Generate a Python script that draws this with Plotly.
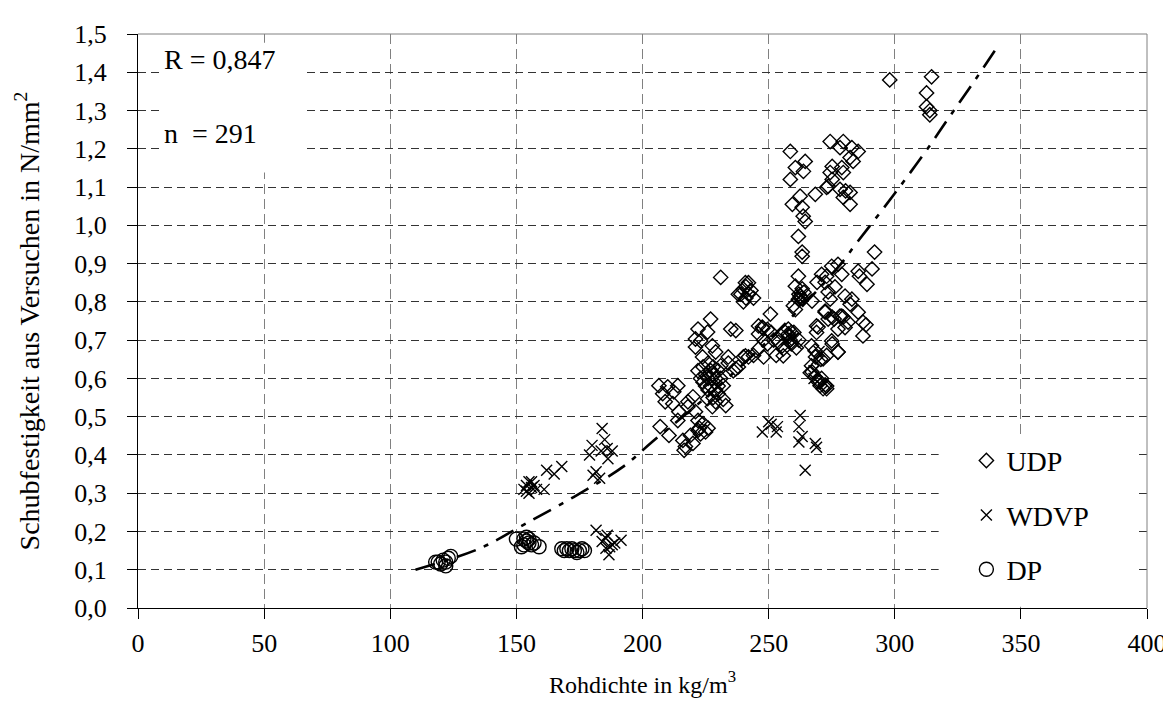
import plotly.graph_objects as go

# ---------------- data ----------------
udp_points = [
    (231, 0.864), (227, 0.755), (222, 0.729), (225.8, 0.721), (235, 0.729), (221, 0.703), (223, 0.698),
    (227.7, 0.685), (221, 0.682), (229, 0.669), (234, 0.656), (240, 0.656), (223.8, 0.656), (237, 0.625),
    (231, 0.633), (222, 0.62), (224, 0.63), (225, 0.61), (226, 0.60), (227, 0.62), (228, 0.61), (229, 0.60),
    (226, 0.64), (228, 0.63), (230, 0.62), (223, 0.60), (225, 0.58), (227, 0.58), (229, 0.57), (231, 0.60),
    (224, 0.59), (226, 0.57), (230, 0.58), (232, 0.581), (206.5, 0.581), (210, 0.578), (214, 0.581),
    (208, 0.56), (212.4, 0.565), (209, 0.539), (212, 0.534), (218, 0.539), (220, 0.552), (225.8, 0.547),
    (229, 0.539), (233, 0.529), (227.7, 0.526), (218, 0.526), (214.4, 0.513), (221, 0.513), (214, 0.49),
    (222, 0.49), (224, 0.482), (207, 0.474), (210.5, 0.451), (219, 0.451), (222, 0.464), (222.5, 0.47),
    (216, 0.438), (217, 0.422), (216.5, 0.412), (220, 0.43), (223, 0.455), (225, 0.46), (226, 0.47),
    (228, 0.55), (230, 0.56), (232, 0.545), (234, 0.64), (236, 0.62), (238, 0.63), (237, 0.725),
    (239, 0.82), (240, 0.833), (241, 0.84), (242, 0.85), (243, 0.83), (241, 0.81), (240, 0.80), (242, 0.82),
    (244, 0.81), (238, 0.82), (240.8, 0.85),
    (250.7, 0.768), (247.5, 0.734), (249.5, 0.728), (246, 0.716), (248, 0.70), (249.5, 0.69), (248, 0.656),
    (255.4, 0.685), (257.8, 0.716), (258.6, 0.70), (255.8, 0.659), (260.6, 0.78), (246, 0.737), (247.7, 0.731),
    (257.8, 0.729), (256.5, 0.721), (259, 0.72), (253.9, 0.695), (255.8, 0.677), (246, 0.677), (242, 0.656),
    (240.8, 0.659), (252, 0.70), (253, 0.66), (258, 0.71), (260, 0.72), (262, 0.70), (259, 0.69), (261, 0.68),
    (251, 0.72), (244, 0.66),
    (258.6, 1.193), (264.5, 1.167), (260.6, 1.151), (263.8, 1.141), (258.6, 1.12), (274.4, 1.219),
    (274.4, 1.138), (273, 1.099), (268.5, 1.081), (262.5, 1.076), (259.4, 1.055), (263.3, 1.047),
    (263.7, 1.024), (264.5, 1.01), (261.8, 0.971), (263.3, 0.93), (263.3, 0.919), (261.8, 0.867),
    (260.6, 0.841), (263.3, 0.834), (261.8, 0.807), (267.2, 0.802), (259.8, 0.79), (271, 0.872),
    (269.2, 0.851), (272.4, 0.851), (273.6, 0.826), (272.4, 0.776), (273.6, 0.755), (275, 0.893),
    (262, 0.82), (263, 0.81), (264, 0.825), (262.5, 0.815),
    (269, 0.737), (269, 0.72), (267, 0.685), (268.6, 0.656), (267, 0.633), (266.5, 0.615), (268.4, 0.604),
    (270.4, 0.591), (271.6, 0.573), (270.4, 0.581), (270.7, 0.65), (269.6, 0.734), (268.4, 0.672),
    (271.6, 0.651), (267.2, 0.617), (269.6, 0.591), (272.4, 0.583), (271, 0.60), (272.4, 0.773), (273, 0.66),
    (273, 0.58), (273, 0.573),
    (275, 0.698), (277.5, 0.669), (276, 0.755), (279, 0.763), (281.5, 0.747), (279.6, 1.219), (278.3, 1.203),
    (283, 1.203), (285.5, 1.193), (282.3, 1.177), (283.5, 1.167), (275.2, 1.154), (279, 1.151), (275.2, 1.12),
    (279.6, 1.138), (273.6, 1.102), (278.3, 1.094), (280.5, 1.09), (282.3, 1.086), (279.6, 1.073),
    (282.3, 1.055), (292, 0.93), (291, 0.886), (285.5, 0.88), (286, 0.867), (289, 0.846), (277.5, 0.898),
    (279, 0.872), (276.3, 0.839), (273, 0.867), (274.4, 0.807), (280.3, 0.815), (283, 0.807), (282.3, 0.794),
    (285.5, 0.773), (278.3, 0.763), (279.6, 0.76), (275.2, 0.76), (287.4, 0.747), (288.6, 0.74),
    (277.5, 0.729), (280.3, 0.733), (287.4, 0.711), (275.2, 0.69), (277.5, 0.669),
    (298, 1.38), (314.6, 1.388), (312.6, 1.346), (312.6, 1.31), (313.9, 1.289), (313.9, 1.30),
]

wdvp_points = [
    (153, 0.31), (154, 0.32), (155, 0.33), (156, 0.315), (157, 0.32), (155, 0.30), (158, 0.31), (156, 0.33),
    (154, 0.305), (161, 0.31), (162, 0.36), (165, 0.35), (168, 0.37),
    (184, 0.469), (180, 0.425), (183.6, 0.41), (186, 0.417), (180.4, 0.347), (183, 0.339), (181.6, 0.356),
    (186.3, 0.39), (179, 0.40), (188, 0.41), (185, 0.44),
    (181.6, 0.203), (185.5, 0.182), (188, 0.165), (185.5, 0.156), (191.5, 0.177), (186.7, 0.139),
    (184, 0.174), (187, 0.16), (189, 0.17), (186, 0.19),
    (247.5, 0.46), (250, 0.487), (253.5, 0.474), (253, 0.46), (251, 0.48),
    (262.5, 0.503), (262, 0.474), (263.3, 0.448), (262, 0.434), (268.5, 0.43), (264.5, 0.36), (269, 0.42),
    (268, 0.62), (269, 0.65), (270, 0.67), (268, 0.60), (257, 0.70), (259, 0.71), (261, 0.69),
    (262, 0.81), (263, 0.82),
]

dp_points = [
    (118, 0.12), (120, 0.115), (121, 0.125), (122, 0.12), (123, 0.13), (124, 0.135), (119, 0.12), (122, 0.11),
    (150, 0.18), (153, 0.18), (154, 0.185), (154, 0.175), (155, 0.17), (153, 0.165), (156, 0.165),
    (157, 0.17), (159, 0.16), (152, 0.16), (155, 0.18),
    (168, 0.155), (169, 0.15), (170, 0.155), (171, 0.15), (172, 0.155), (173, 0.15), (174, 0.145),
    (175, 0.15), (176, 0.155), (177, 0.15),
]

trend_x = [110, 135.6, 153, 172.7, 192.5, 204, 225, 250, 277.5, 285, 295, 303.6, 313, 321.3, 330, 340]
trend_y = [0.10, 0.156, 0.218, 0.29, 0.37, 0.435, 0.55, 0.70, 0.89, 0.955, 1.04, 1.115, 1.2, 1.28, 1.362, 1.46]

series_names = ["UDP", "WDVP", "DP"]
stat_texts = ["R = 0,847", "n\u00a0 = 291"]

x_title = "Rohdichte in kg/m<sup>3</sup>"
y_title = "Schubfestigkeit aus Versuchen in N/mm<sup>2</sup>"

FONT = "Liberation Serif"

fig = go.Figure()

symbols = {"UDP": ("diamond-open", 11), "WDVP": ("x-thin-open", 11), "DP": ("circle-open", 14)}
for name, pts in zip(series_names, [udp_points, wdvp_points, dp_points]):
    sym, sz = symbols[name]
    fig.add_trace(go.Scatter(
        x=[p[0] for p in pts], y=[p[1] for p in pts], mode="markers", name=name,
        legendgroup=name,
        marker=dict(symbol=sym, size=sz, color="black", line=dict(color="black", width=1.4)),
    ))

fig.add_trace(go.Scatter(
    x=trend_x, y=trend_y, mode="lines", showlegend=False, hoverinfo="skip",
    line=dict(color="black", width=2.6, dash="20px,9px,5px,9px", shape="spline"),
))

# white boxes behind the statistics text and the legend (cover grid lines)
fig.add_shape(type="rect", xref="x", yref="y", x0=9.1, x1=66.3, y0=1.138, y1=1.477,
              fillcolor="white", line_width=0, layer="between")
fig.add_shape(type="rect", xref="x", yref="y", x0=317.4, x1=395.6, y0=0.003, y1=0.443,
              fillcolor="white", line_width=0, layer="between")
# gray plot-area border on top and right
fig.add_shape(type="line", xref="paper", yref="paper", x0=0, x1=1, y0=1, y1=1,
              line=dict(color="#808080", width=1), layer="above")
fig.add_shape(type="line", xref="paper", yref="paper", x0=1, x1=1, y0=0, y1=1,
              line=dict(color="#808080", width=1), layer="above")

for txt, yy in zip(stat_texts, [0.956, 0.826]):
    fig.add_annotation(text=txt, xref="paper", yref="paper", x=0.024, y=yy,
                       xanchor="left", yanchor="middle", showarrow=False,
                       font=dict(family=FONT, size=28, color="black"))

fig.update_layout(
    width=1171, height=710,
    margin=dict(l=130, r=29, t=24, b=110),
    paper_bgcolor="white", plot_bgcolor="white",
    separators=",.",
    font=dict(family=FONT, size=26, color="black"),
    showlegend=True,
    legend=dict(x=0.821, y=0.30, xanchor="left", yanchor="top",
                bgcolor="rgba(0,0,0,0)", font=dict(family=FONT, size=28, color="black"),
                tracegroupgap=15),
    xaxis=dict(range=[0, 400], tickmode="linear", tick0=0, dtick=50,
               showline=True, linecolor="black", linewidth=1,
               ticks="outside", ticklen=10, tickcolor="black",
               showgrid=True, gridcolor="#808080", gridwidth=1, griddash="10px,5px",
               zeroline=False, tickfont=dict(family=FONT, size=26), ticklabelstandoff=2,
               title=dict(text=x_title, font=dict(family=FONT, size=24), standoff=18)),
    yaxis=dict(range=[0, 1.5], tickmode="linear", tick0=0, dtick=0.1, tickformat=".1f",
               showline=True, linecolor="black", linewidth=1,
               ticks="outside", ticklen=10, tickcolor="black",
               showgrid=True, gridcolor="#333333", gridwidth=1, griddash="8px,5px",
               zeroline=False, tickfont=dict(family=FONT, size=26), ticklabelstandoff=15,
               title=dict(text=y_title, font=dict(family=FONT, size=28), standoff=26)),
)

fig.write_html("out.html")
